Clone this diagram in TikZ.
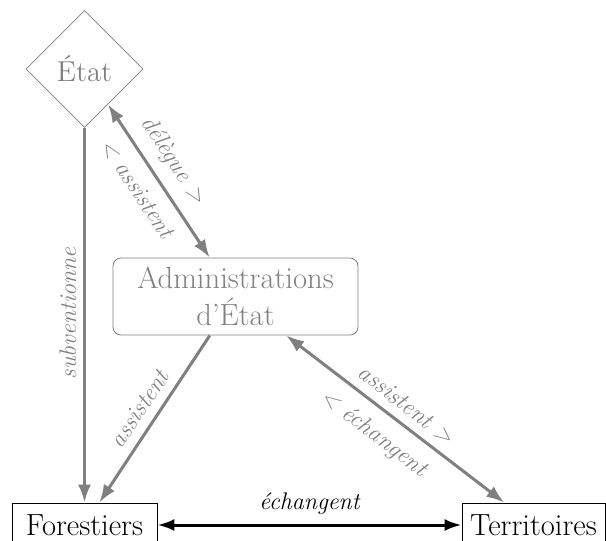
\documentclass[tikz,border=0pt]{standalone}
\usepackage{tikz}
\usetikzlibrary{calc, arrows.meta, shapes.geometric}
\definecolor{Dark}{HTML}{000000}
\definecolor{Muted}{HTML}{808080}
\tikzset{
    diamnode/.style={diamond, draw=Muted, thin, text=Muted, font=\Large, inner sep=0pt, minimum size=58.5pt},
    roundnode/.style={rectangle, rounded corners=4pt, draw=Muted, thin, text=Muted, align=center, font=\fontsize{15.3}{18.5}\selectfont, minimum width=122.5pt, minimum height=38.5pt},
    flatnode/.style={rectangle, draw=Dark, thin, text=Dark, font=\fontsize{15.3}{18.5}\selectfont, minimum height=22pt, inner xsep=4pt},
    arrow/.style={-{Latex[length=9pt,width=6.5pt]}, line width=1.5pt, color=Muted},
    darrow/.style={{Latex[length=9pt,width=6.5pt]}-{Latex[length=9pt,width=6.5pt]}, line width=1.5pt, color=Muted},
    blackarrow/.style={{Latex[length=8.5pt,width=6pt]}-{Latex[length=8.5pt,width=6pt]}, line width=1.5pt, color=Dark},
    arclabel/.style={font=\large\itshape, text=Muted, sloped},
}
\begin{document}
\begin{tikzpicture}[x=0.5pt, y=-0.5pt]
    % Cornice (taglio come nell'originale)
    \useasboundingbox (0,0) rectangle (606,541);
    \clip (0,0) rectangle (606,541);

    % Nodi
    \node[diamnode] (etat) at (84.5,69) {État};
    \node[roundnode] (admin) at (235.5,296.5) {Administrations\\d’État};
    \node[flatnode, minimum width=72.5pt] (forestiers) at (84.5,525) {Forestiers};
    \node[flatnode, minimum width=71.5pt] (territoires) at (533.5,525) {Territoires};

    % Frecce grigie
    \draw[arrow] (etat) -- (forestiers) node[midway, above=1pt, rotate=90, font=\large\itshape, text=Muted] {subventionne};
    \draw[darrow] (etat) -- (admin)
        node[arclabel, pos=0.45, above=2pt] {délègue >}
        node[arclabel, pos=0.47, below=3pt] {< assistent};
    \draw[arrow] (admin) -- (forestiers) node[arclabel, midway, above=1pt] {assistent};
    \draw[darrow] (admin) -- (territoires)
        node[arclabel, midway, above=1pt] {assistent >}
        node[arclabel, pos=0.47, below=3pt] {< échangent};

    % Freccia nera
    \draw[blackarrow] (forestiers) -- (territoires) node[midway, above=1pt, font=\large\itshape] {échangent};
\end{tikzpicture}
\end{document}
